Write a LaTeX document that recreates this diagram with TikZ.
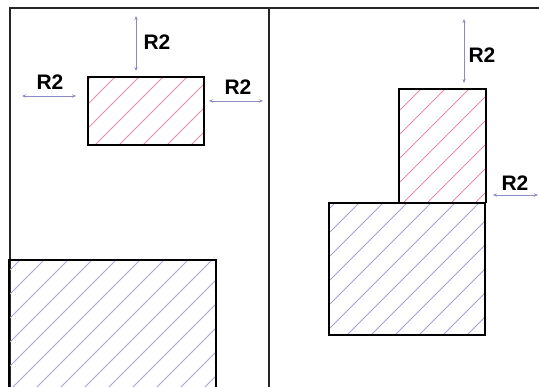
\documentclass[tikz,border=0pt]{standalone}
\usepackage{fontspec}
\setmainfont{Liberation Sans}
\usepackage{xcolor}
\usetikzlibrary{arrows.meta, positioning, calc}

\definecolor{hatchred}{RGB}{238,140,168}
\definecolor{hatchblue}{RGB}{165,165,218}
\definecolor{dimgray}{RGB}{140,140,195}

\begin{document}
\begin{tikzpicture}[x=1pt, y=-1pt,
    panel/.style={draw=black!85, line width=1.1pt},
    part/.style={draw=black, line width=1.4pt},
    redhatch/.style={draw=hatchred, line width=0.8pt},
    bluehatch/.style={draw=hatchblue, line width=0.8pt},
    dim/.style={draw=dimgray, line width=0.8pt,
        {Stealth[length=4pt,width=3.4pt]}-{Stealth[length=4pt,width=3.4pt]}},
    lbl/.style={inner sep=0pt, font=\fontsize{21}{24}\selectfont\bfseries}]
    \clip (0,0) rectangle (539,387);
    % panels
    \draw[panel] (10,395) -- (10,8) -- (545,8);
    \draw[panel] (269,8) -- (269,395);
    % left panel, hatched parts
    \begin{scope}
        \clip (88,77) rectangle (204,145);
        \foreach \c in {0,24,...,960} \draw[redhatch] (\c,0) -- ({\c-420},420);
    \end{scope}
    \begin{scope}
        \clip (9,260) rectangle (216,400);
        \foreach \c in {16,40,...,960} \draw[bluehatch] (\c,0) -- ({\c-420},420);
    \end{scope}
    \draw[part] (88,77) rectangle (204,145);
    \draw[part] (9,400) |- (216,260) -- (216,400);
    % right panel, hatched parts
    \begin{scope}
        \clip (399,89) rectangle (486,203);
        \foreach \c in {6,30,...,960} \draw[redhatch] (\c,0) -- ({\c-420},420);
    \end{scope}
    \begin{scope}
        \clip (329,203) rectangle (485,335);
        \foreach \c in {10,34,...,960} \draw[bluehatch] (\c,0) -- ({\c-420},420);
    \end{scope}
    \draw[part] (399,203) |- (486,89) -- (486,203);
    \draw[part] (329,203) rectangle (485,335);
    % clearances
    \coordinate (lt1) at (136,16);  \coordinate (lt2) at (136,71);
    \coordinate (ll1) at (22,96);   \coordinate (ll2) at (76,96);
    \coordinate (lr1) at (209,101); \coordinate (lr2) at (263,101);
    \coordinate (rt1) at (464,19);  \coordinate (rt2) at (464,83);
    \coordinate (rr1) at (493,195); \coordinate (rr2) at (538,195);
    \draw[dim] (lt1) -- (lt2);
    \draw[dim] (ll1) -- (ll2);
    \draw[dim] (lr1) -- (lr2);
    \draw[dim] (rt1) -- (rt2);
    \draw[dim] (rr1) -- (rr2);
    \node[lbl] (ltlabel) at (157,42) {R2};
    \node[lbl] (lllabel) at (50,82) {R2};
    \node[lbl] (lrlabel) at (238,87) {R2};
    \node[lbl] (rtlabel) at (482,55) {R2};
    \node[lbl] (rrlabel) at (515,183) {R2};
\end{tikzpicture}
\end{document}
